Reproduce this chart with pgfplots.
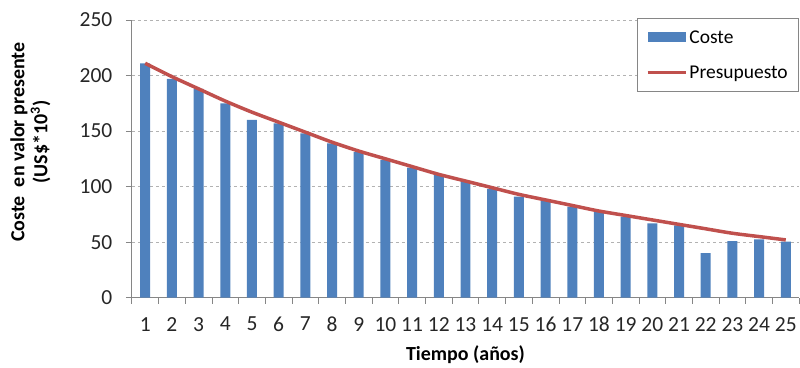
\documentclass[border=0pt]{standalone}
\usepackage{pgfplots}
\pgfplotsset{compat=1.18}
\usepackage{fontspec}
\setmainfont{Carlito}
\definecolor{barblue}{HTML}{4F81BD}
\definecolor{linered}{HTML}{C0504D}
\definecolor{axgray}{HTML}{868686}
\begin{document}
\begin{tikzpicture}
\begin{axis}[
  at={(0,0)}, anchor=south west,
  scale only axis,
  width=668pt, height=278pt,
  xmin=0.5, xmax=25.5,
  ymin=0, ymax=250,
  xtick={1,...,25},
  minor xtick={0.5,1.5,...,25.5},
  ytick={0,50,...,250},
  major x tick style={draw=none},
  tick align=outside,
  major tick length=6pt,
  minor tick length=6pt,
  every tick/.style={draw=axgray, thick},
  axis x line*=bottom,
  axis y line*=left,
  axis line style={draw=axgray, line width=1pt},
  ymajorgrids,
  grid style={dashed, draw=black!30, line width=0.8pt},
  /pgf/number format/assume math mode=true,
  tick label style={font=\fontsize{21.5}{24}\selectfont, text=black!85},
  xticklabel style={yshift=-10pt},
  yticklabel style={xshift=-10pt},
  xlabel={\textbf{Tiempo (años)}},
  xlabel style={font=\fontsize{20}{23}\selectfont, yshift=-7pt},
  ylabel={\textbf{Coste\ \ en valor presente}\\\textbf{(US\$*10\textsuperscript{3})}},
  ylabel style={font=\fontsize{20}{23}\selectfont, align=center, at={(rel axis cs:0,0.56)}, anchor=south, yshift=78pt},
  legend style={at={(rel axis cs:1,1.007)}, anchor=north east, draw=axgray, line width=0.8pt,
    font=\fontsize{19.5}{22}\selectfont, row sep=17pt, inner xsep=9pt, inner ysep=10pt},
  legend cell align=left,
]
\addplot[ybar, bar width=10pt, fill=barblue, draw=none,
  legend image code/.code={\fill[barblue] (0pt,-5pt) rectangle (38pt,5pt);}]
coordinates {
(1,211) (2,197) (3,188) (4,175) (5,160) (6,157) (7,148) (8,139) (9,131) (10,124)
(11,117) (12,111) (13,105) (14,98) (15,91) (16,87.5) (17,82) (18,77.5) (19,73) (20,67)
(21,65) (22,40) (23,51) (24,52.5) (25,50.5)
};
\addlegendentry{Coste}
\addplot[linered, line width=3.5pt, smooth, no marks,
  legend image code/.code={\draw[linered, line width=3.5pt] (0pt,0pt) -- (38pt,0pt);}]
coordinates {
(1,211) (2,199) (3,188) (4,177) (5,167) (6,158) (7,149) (8,140) (9,132) (10,125)
(11,118) (12,111) (13,105) (14,99) (15,93) (16,88) (17,83) (18,78) (19,74) (20,70)
(21,66) (22,62) (23,58) (24,55) (25,52)
};
\addlegendentry{Presupuesto}
\end{axis}
\path[use as bounding box] (-132pt,-68pt) rectangle (668pt,298pt);
\end{tikzpicture}
\end{document}
